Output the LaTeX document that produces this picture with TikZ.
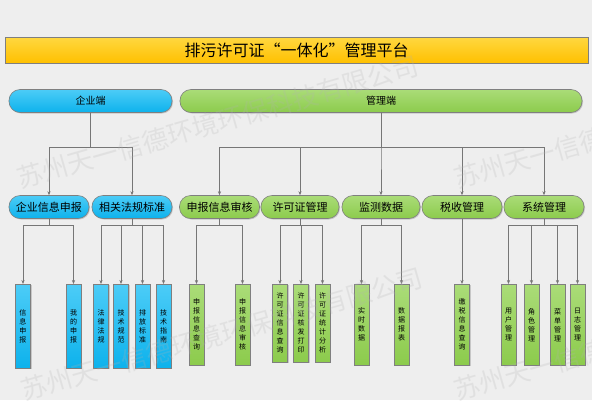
\documentclass[tikz,border=0pt]{standalone}
\usepackage{fontspec}
\setmainfont{Noto Sans CJK SC}
\usepackage{xcolor}
\usepackage{tikz}
\usetikzlibrary{arrows.meta,positioning,shadows}

\definecolor{bgGray}{HTML}{EEEEEE}
\definecolor{edgeGray}{HTML}{7F7F7F}
\definecolor{lineGray}{HTML}{767676}
\definecolor{blueTop}{HTML}{4CCCF7}
\definecolor{blueBot}{HTML}{0DB2EC}
\definecolor{greenTop}{HTML}{AADC78}
\definecolor{greenBot}{HTML}{8CCB4C}
\definecolor{goldTop}{HTML}{FFD840}
\definecolor{goldBot}{HTML}{FFC000}

\begin{document}
\begin{tikzpicture}[x=1pt, y=-1pt, >={Stealth[length=4pt,width=3.2pt]},
    link/.style={draw=lineGray, line width=0.6pt},
    boxshadow/.style={drop shadow={shadow xshift=1pt, shadow yshift=-1pt, opacity=0.35}},
    pill/.style={draw=edgeGray, line width=0.6pt, boxshadow, rounded corners=11pt,
      minimum height=23pt, inner sep=0pt, font=\fontsize{11}{11}\selectfont},
    bluepill/.style={pill, top color=blueTop, bottom color=blueBot},
    greenpill/.style={pill, top color=greenTop, bottom color=greenBot},
    leaf/.style={draw=edgeGray, line width=0.6pt, boxshadow, anchor=north,
      minimum width=15pt, inner sep=0pt, align=center,
      font=\fontsize{7}{9}\selectfont},
    blueleaf/.style={leaf, minimum height=84pt, top color=blueTop, bottom color=blueBot},
    greenleaf/.style={leaf, minimum height=81pt, top color=greenTop, bottom color=greenBot},
    watermark/.style={text=gray!60, opacity=0.22, rotate=16, font=\fontsize{26}{26}\selectfont}]

  % background
  \useasboundingbox (0,0) rectangle (592,400);
  \fill[bgGray] (0,0) rectangle (592,400);

  % title
  \node[draw=edgeGray, line width=0.8pt, boxshadow, top color=goldTop, bottom color=goldBot,
        minimum width=583pt, minimum height=26pt, inner sep=0pt,
        font=\fontsize{16}{16}\selectfont] (title) at (296.5,50) {排污许可证“一体化”管理平台};

  % first level
  \node[bluepill, minimum width=163pt, font=\fontsize{10}{10}\selectfont] (qyd) at (90.5,101) {企业端};
  \node[greenpill, minimum width=402pt, font=\fontsize{10}{10}\selectfont] (gld) at (381,101) {管理端};

  % second level
  \node[bluepill, minimum width=80pt] (qysb) at (49,207) {企业信息申报};
  \node[bluepill, minimum width=80pt] (fgbz) at (132,207) {相关法规标准};
  \node[greenpill, minimum width=80pt] (sbsh) at (219.5,207) {申报信息审核};
  \node[greenpill, minimum width=78pt] (xkz) at (300,207) {许可证管理};
  \node[greenpill, minimum width=78pt] (jcsj) at (381,207) {监测数据};
  \node[greenpill, minimum width=80pt] (sszl) at (462,207) {税收管理};
  \node[greenpill, minimum width=80pt] (xtgl) at (544,207) {系统管理};

  % leaves
  \node[blueleaf] (xxsb) at (23,284) {信\\息\\申\\报};
  \node[blueleaf] (wdsb) at (73.5,284) {我\\的\\申\\报};
  \node[blueleaf] (flfg) at (101,284) {法\\律\\法\\规};
  \node[blueleaf] (jsgf) at (121,284) {技\\术\\规\\范};
  \node[blueleaf] (pfbz) at (142.5,284) {排\\放\\标\\准};
  \node[blueleaf] (jszn) at (163.5,284) {技\\术\\指\\南};

  \node[greenleaf] (sbcx) at (196.5,284) {申\\报\\信\\息\\查\\询};
  \node[greenleaf] (sbsy) at (242.5,284) {申\\报\\信\\息\\审\\核};
  \node[greenleaf, minimum height=78pt] (xkcx) at (280,284) {许\\可\\证\\信\\息\\查\\询};
  \node[greenleaf, minimum height=78pt] (xkdy) at (301,284) {许\\可\\证\\核\\发\\打\\印};
  \node[greenleaf, minimum height=78pt] (xktj) at (322.5,284) {许\\可\\证\\统\\计\\分\\析};
  \node[greenleaf] (sssj) at (361.5,284) {实\\时\\数\\据};
  \node[greenleaf] (sjbb) at (401.5,284) {数\\据\\报\\表};
  \node[greenleaf] (jscx) at (462,284) {缴\\税\\信\\息\\查\\询};
  \node[greenleaf] (yhgl) at (508.5,284) {用\\户\\管\\理};
  \node[greenleaf] (jsgl) at (531.5,284) {角\\色\\管\\理};
  \node[greenleaf] (cdgl) at (557.5,284) {菜\\单\\管\\理};
  \node[greenleaf] (rzgl) at (577.5,284) {日\\志\\管\\理};

  % connectors
  \foreach \kid in {qysb,fgbz}
    \draw[link,->] (qyd.south) -- ++(0,34) -| (\kid.north);
  \foreach \kid in {sbsh,xkz,jcsj,sszl,xtgl}
    \draw[link,->] (gld.south) -- ++(0,34) -| (\kid.north);
  \foreach \kid in {xxsb,wdsb}
    \draw[link,->] (qysb.south) -- ++(0,6) -| (\kid.north);
  \foreach \kid in {flfg,jsgf,pfbz,jszn}
    \draw[link,->] (fgbz.south) -- ++(0,6) -| (\kid.north);
  \foreach \kid in {sbcx,sbsy}
    \draw[link,->] (sbsh.south) -- ++(0,6) -| (\kid.north);
  \foreach \kid in {xkcx,xkdy,xktj}
    \draw[link,->] (xkz.south) -- ++(0,6) -| (\kid.north);
  \foreach \kid in {sssj,sjbb}
    \draw[link,->] (jcsj.south) -- ++(0,6) -| (\kid.north);
  \draw[link,->] (sszl.south) -- (jscx.north);
  \foreach \kid in {yhgl,jsgl,cdgl,rzgl}
    \draw[link,->] (xtgl.south) -- ++(0,6) -| (\kid.north);

  % watermark
  \node[watermark] (wm1) at (218,122) {苏州天一信德环境环保科技有限公司};
  \node[watermark] (wm2) at (655,122) {苏州天一信德环境环保科技有限公司};
  \node[watermark] (wm3) at (222,334) {苏州天一信德环境环保科技有限公司};
  \node[watermark] (wm4) at (655,334) {苏州天一信德环境环保科技有限公司};
\end{tikzpicture}
\end{document}
